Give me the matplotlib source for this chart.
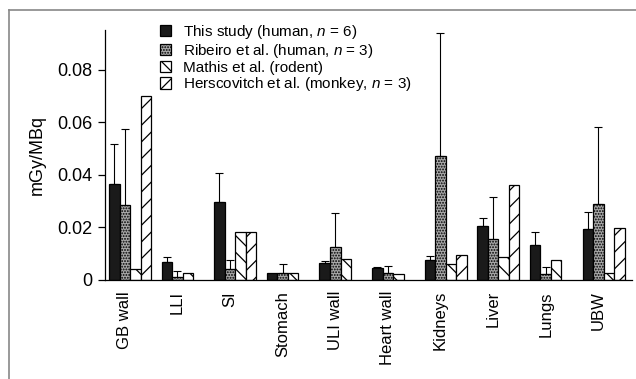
import numpy as np
import matplotlib
matplotlib.use("Agg")
import matplotlib.pyplot as plt
from matplotlib.lines import Line2D

plt.rcParams['font.family'] = ['Liberation Sans', 'DejaVu Sans']
plt.rcParams['mathtext.fontset'] = 'custom'
plt.rcParams['mathtext.it'] = 'Liberation Sans:italic'
plt.rcParams['mathtext.rm'] = 'Liberation Sans'
plt.rcParams['hatch.linewidth'] = 0.9

categories = ['GB wall', 'LLI', 'SI', 'Stomach', 'ULI wall', 'Heart wall',
              'Kidneys', 'Liver', 'Lungs', 'UBW']
series_labels = ['This study (human, $n$ = 6)',
                 'Ribeiro et al. (human, $n$ = 3)',
                 'Mathis et al. (rodent)',
                 'Herscovitch et al. (monkey, $n$ = 3)']
this_study = [0.0365, 0.0070, 0.0298, 0.0028, 0.0063, 0.0044, 0.0077, 0.0207, 0.0132, 0.0194]
this_study_err = [0.0152, 0.0019, 0.0111, 0.0, 0.0009, 0.0006, 0.0013, 0.0028, 0.0050, 0.0064]
ribeiro = [0.0286, 0.0013, 0.0041, 0.0028, 0.0124, 0.0025, 0.0474, 0.0156, 0.0022, 0.0290]
ribeiro_err = [0.0288, 0.0021, 0.0035, 0.0032, 0.0130, 0.0028, 0.0468, 0.0159, 0.0026, 0.0294]
mathis = [0.0041, 0.0028, 0.0184, 0.0028, 0.0079, 0.0023, 0.0062, 0.0089, 0.0076, 0.0028]
herscovitch = [0.0701, np.nan, 0.0184, np.nan, np.nan, np.nan, 0.0094, 0.0363, np.nan, 0.0198]
y_ticks = [0, 0.02, 0.04, 0.06, 0.08]
y_ticklabels = ['0', '0.02', '0.04', '0.06', '0.08']

fig = plt.figure(figsize=(6.36, 3.79), dpi=100)
ax = fig.add_axes([105/636, 1-280/379, (632-105)/636, 250/379])

w = 0.2
x0 = np.arange(len(categories))
styles = [dict(facecolor='#1a1a1a', hatch=None),
          dict(facecolor='#a8a8a8', hatch='......'),
          dict(facecolor='white', hatch='\\\\'),
          dict(facecolor='white', hatch='//')]
data = [this_study, ribeiro, mathis, herscovitch]
errs = [this_study_err, ribeiro_err, None, None]

handles = []
for k, (vals, st) in enumerate(zip(data, styles)):
    vals = np.array(vals, dtype=float)
    bars = ax.bar(x0 + k * w, np.nan_to_num(vals), width=w, align='edge',
                  facecolor=st['facecolor'], hatch=st['hatch'],
                  edgecolor='black', linewidth=0.9, zorder=2)
    for b, v in zip(bars, vals):
        if np.isnan(v):
            b.set_visible(False)
    handles.append(bars)
    if errs[k] is not None:
        e = np.array(errs[k])
        m = e > 0
        ax.errorbar((x0 + k * w + w / 2)[m], vals[m], yerr=[np.zeros(m.sum()), e[m]],
                    fmt='none', ecolor='black', elinewidth=0.8, capsize=3,
                    capthick=0.8, zorder=1)

ax.set_xlim(-0.076, 9.94)
ax.set_ylim(0, 0.0952)
ax.set_yticks(y_ticks)
ax.set_yticklabels(y_ticklabels, fontsize=13)
ax.set_xticks(x0 + 0.3)
ax.set_xticklabels(categories, rotation=90, fontsize=12)
ax.tick_params(axis='x', length=0, pad=8)
ax.tick_params(axis='y', direction='out', length=5, width=0.9, pad=4)
ax.spines['top'].set_visible(False)
ax.spines['right'].set_visible(False)
ax.spines['left'].set_linewidth(0.9)
ax.spines['bottom'].set_linewidth(0.9)
ax.set_ylabel('mGy/MBq', fontsize=13, labelpad=8)

fig.legend(handles, series_labels, loc='upper left',
           bbox_to_anchor=(160/636, 1-23/379), frameon=False, fontsize=11,
           handlelength=0.7, handleheight=0.75, handletextpad=0.8,
           labelspacing=0.05, borderpad=0, borderaxespad=0)

fig.add_artist(Line2D([9/636, 1], [1-10/379, 1-10/379], transform=fig.transFigure,
                      color='#888888', lw=1.2))
fig.add_artist(Line2D([9/636, 9/636], [0, 1-10/379], transform=fig.transFigure,
                      color='#888888', lw=1.2))

fig.savefig('out.png', dpi=100)
